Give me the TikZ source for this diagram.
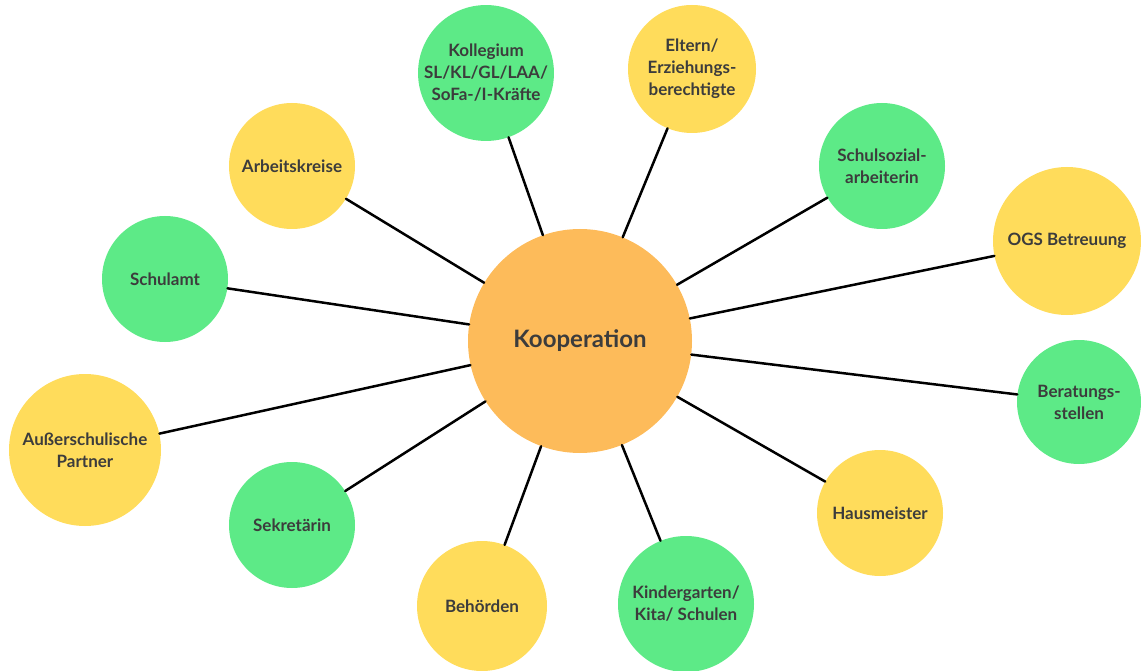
\documentclass[tikz,border=0pt]{standalone}
\usepackage{fontspec}
\setmainfont{Lato}
\usepackage{tikz}

\definecolor{kgreen}{HTML}{5DEA87}
\definecolor{kyellow}{HTML}{FFDC5B}
\definecolor{korange}{HTML}{FDBB5A}
\definecolor{ktext}{HTML}{3C3C3C}

\begin{document}
\begin{tikzpicture}[
    x=1pt,
    y=-1pt,
    line cap=round,
    kreis/.style={circle,inner sep=0pt,text=ktext,align=center,
        font=\bfseries\fontsize{17}{22}\selectfont},
    gruen/.style={kreis,fill=kgreen},
    gelb/.style={kreis,fill=kyellow},
    verbindung/.style={line width=2.5pt,black}
]
\useasboundingbox (0,0) rectangle (1141,671);

% Mitte
\node[kreis,fill=korange,minimum size=224pt,font=\bfseries\fontsize{24}{28}\selectfont] (K) at (580,341) {Kooperation};

% aussen
\node[gruen,minimum size=132pt] (kol) at (486,73) {Kollegium\\SL/KL/GL/LAA/\\SoFa-/I-Kräfte};
\node[gelb,minimum size=128pt] (elt) at (692,69) {Eltern/\\Erziehungs-\\berechtigte};
\node[gruen,minimum size=126pt] (sozial) at (882,166) {Schulsozial-\\arbeiterin};
\node[gelb,minimum size=148pt] (ogs) at (1067,241) {OGS Betreuung};
\node[gruen,minimum size=124pt] (berat) at (1079,402) {Beratungs-\\stellen};
\node[gelb,minimum size=126pt] (haus) at (880,513) {Hausmeister};
\node[gruen,minimum size=136pt] (kita) at (686,604) {Kindergarten/\\Kita/ Schulen};
\node[gelb,minimum size=130pt] (beh) at (482,606) {Behörden};
\node[gruen,minimum size=126pt] (sek) at (292,525) {Sekretärin};
\node[gelb,minimum size=152pt] (aus) at (85,450) {Außerschulische\\Partner};
\node[gruen,minimum size=126pt] (amt) at (165,279) {Schulamt};
\node[gelb,minimum size=126pt] (ak) at (292,166) {Arbeitskreise};

% Linien
\draw[verbindung] (K) -- (kol);
\draw[verbindung] (K) -- (elt);
\draw[verbindung] (K) -- (sozial);
\draw[verbindung] (K) -- (ogs);
\draw[verbindung] (K) -- (berat);
\draw[verbindung] (K) -- (haus);
\draw[verbindung] (K) -- (kita);
\draw[verbindung] (K) -- (beh);
\draw[verbindung] (K) -- (sek);
\draw[verbindung] (K) -- (aus);
\draw[verbindung] (K) -- (amt);
\draw[verbindung] (K) -- (ak);

\end{tikzpicture}
\end{document}
